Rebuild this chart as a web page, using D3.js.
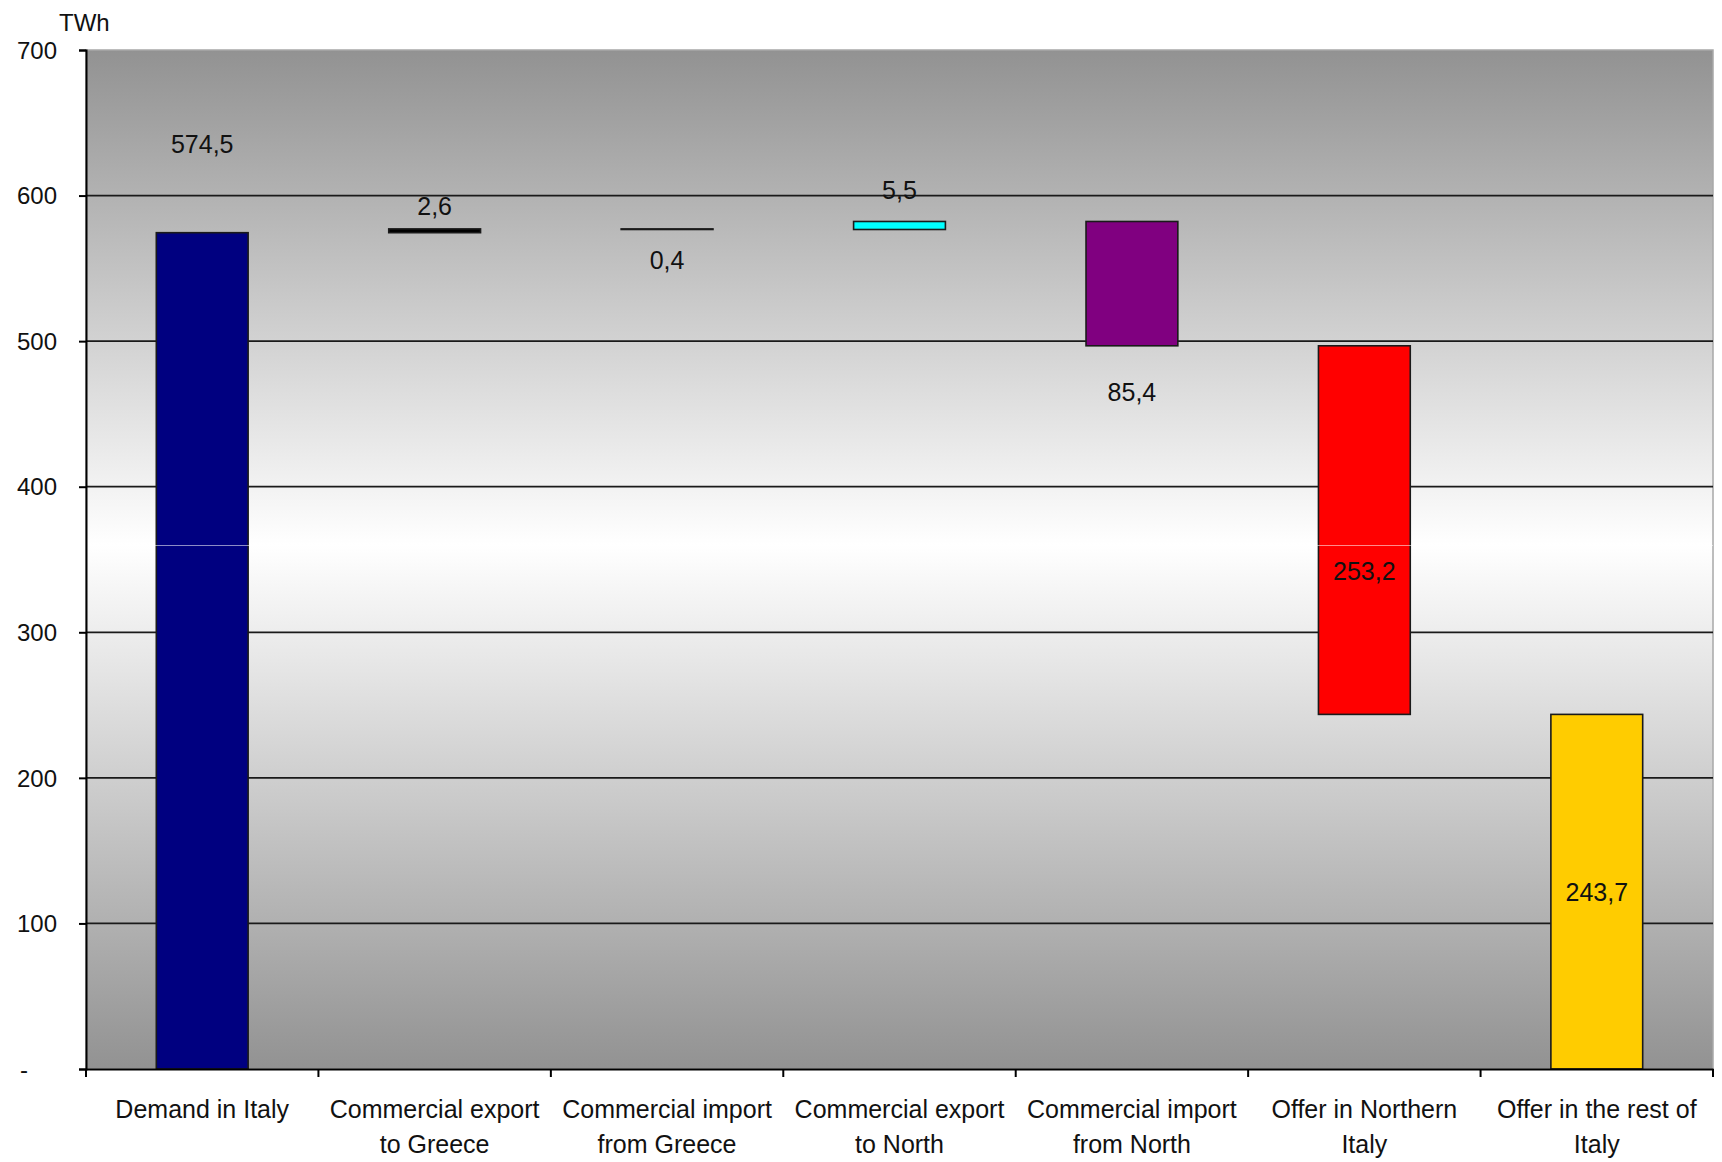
<!DOCTYPE html>
<html>
<head>
<meta charset="utf-8">
<script src="https://cdn.jsdelivr.net/npm/d3@7/dist/d3.min.js"></script>
<style>
  html, body { margin: 0; padding: 0; background: #fff; }
  svg { display: block; font-family: "Liberation Sans", Arial, sans-serif; }
</style>
</head>
<body>
<svg id="chart" width="1722" height="1162"></svg>
<script>
// ---- data ----
const categories = [
  "Demand in Italy",
  "Commercial export|to Greece",
  "Commercial import|from Greece",
  "Commercial export|to North",
  "Commercial import|from North",
  "Offer in Northern|Italy",
  "Offer in the rest of|Italy"
];
// signed waterfall steps (TWh)
const steps = [574.5, 2.6, -0.4, 5.5, -85.4, -253.2, -243.7];
const valueLabels = ["574,5", "2,6", "0,4", "5,5", "85,4", "253,2", "243,7"];
const barColors = ["#000080", "#000000", "#000000", "#00ffff", "#800080", "#ff0000", "#ffcc00"];
// where Excel placed each data label (TWh level of the label centre)
const labelLevels = [635.5, 592.7, 556, 604, 465.4, 342.3, 121.9];
const yTicks = [0, 100, 200, 300, 400, 500, 600, 700];
const yTickLabels = ["-", "100", "200", "300", "400", "500", "600", "700"];
const unitLabel = "TWh";

(function () {
// ---- layout ----
const svg = d3.select("#chart");
const pL = 86, pR = 1713, pT = 50, pB = 1069;

const x = d3.scaleBand().domain(d3.range(categories.length)).range([pL, pR]).paddingInner(0.605).paddingOuter(0.3025);
const xb = d3.scaleBand().domain(d3.range(categories.length)).range([pL, pR]);
const y = d3.scaleLinear().domain([0, 700]).range([pB, pT]);

// cumulative bases
let run = 0;
const bars = steps.map((s, i) => {
  const start = run; run += s;
  return { i, lo: Math.max(0, Math.min(start, run)), hi: Math.max(start, run) };
});

// background gradient
const defs = svg.append("defs");
const grad = defs.append("linearGradient").attr("id", "bg")
  .attr("gradientUnits", "userSpaceOnUse")
  .attr("x1", 0).attr("x2", 0).attr("y1", pT).attr("y2", pB);
const seam = (545 - pT) / (pB - pT);
grad.append("stop").attr("offset", 0).attr("stop-color", "#929292");
grad.append("stop").attr("offset", seam).attr("stop-color", "#ffffff");
grad.append("stop").attr("offset", 1).attr("stop-color", "#929292");

svg.append("rect").attr("x", pL).attr("y", pT)
  .attr("width", pR - pL).attr("height", pB - pT)
  .attr("fill", "url(#bg)").attr("stroke", "#a8a8a8").attr("stroke-width", 1.5);

// gridlines
svg.append("g").selectAll("line").data(yTicks.filter(t => t > 0 && t < 700)).join("line")
  .attr("x1", pL).attr("x2", pR)
  .attr("y1", d => y(d)).attr("y2", d => y(d))
  .attr("stroke", "#1a1a1a").attr("stroke-width", 1.8);

// bars
svg.append("g").selectAll("rect").data(bars).join("rect")
  .attr("x", d => x(d.i))
  .attr("width", x.bandwidth())
  .attr("y", d => y(d.hi))
  .attr("height", d => Math.max(0.5, y(d.lo) - y(d.hi)))
  .attr("fill", d => barColors[d.i])
  .attr("stroke", "#1a1a1a").attr("stroke-width", 1.6);

// faint rendering seam
svg.append("line").attr("x1", pL).attr("x2", pR).attr("y1", 545.5).attr("y2", 545.5)
  .attr("stroke", "#ffffff").attr("stroke-opacity", 0.55).attr("stroke-width", 1);

// axes
const yAxis = svg.append("g").attr("transform", `translate(${pL},0)`)
  .call(d3.axisLeft(y).tickValues(yTicks).tickSize(7).tickFormat((d, i) => yTickLabels[i]));
yAxis.select(".domain").attr("stroke", "#000").attr("stroke-width", 2);
yAxis.selectAll(".tick line").attr("stroke", "#000").attr("stroke-width", 2);
yAxis.selectAll(".tick text").attr("font-size", 24).attr("fill", "#111")
  .attr("font-family", "Liberation Sans, Arial, sans-serif").attr("x", -29).attr("dy", "0.34em");
yAxis.selectAll(".tick").filter(d => d === 0).select("text")
  .attr("text-anchor", "middle").attr("x", -62);

const xAxis = svg.append("g").attr("transform", `translate(0,${pB})`)
  .call(d3.axisBottom(xb).tickSize(0).tickFormat(""));
xAxis.select(".domain").attr("stroke", "#000").attr("stroke-width", 2);
// ticks at category boundaries
svg.append("g").selectAll("line").data(d3.range(categories.length + 1)).join("line")
  .attr("x1", i => pL + i * xb.step()).attr("x2", i => pL + i * xb.step())
  .attr("y1", pB).attr("y2", pB + 8)
  .attr("stroke", "#000").attr("stroke-width", 2);

// category labels
const catG = svg.append("g").attr("font-size", 25).attr("fill", "#111").attr("text-anchor", "middle");
categories.forEach((c, i) => {
  const cx = xb(i) + xb.bandwidth() / 2;
  const t = catG.append("text").attr("x", cx).attr("y", 1118);
  c.split("|").forEach((line, k) => {
    t.append("tspan").attr("x", cx).attr("dy", k === 0 ? 0 : 35).text(line);
  });
});

// value labels
svg.append("g").selectAll("text").data(valueLabels).join("text")
  .attr("x", (d, i) => xb(i) + xb.bandwidth() / 2)
  .attr("y", (d, i) => y(labelLevels[i]))
  .attr("dy", "0.36em")
  .attr("text-anchor", "middle").attr("font-size", 25).attr("fill", "#111")
  .text(d => d);

// unit label
svg.append("text").attr("x", 59).attr("y", 31).attr("font-size", 24).attr("fill", "#111").text(unitLabel);
})();
</script>
</body>
</html>
